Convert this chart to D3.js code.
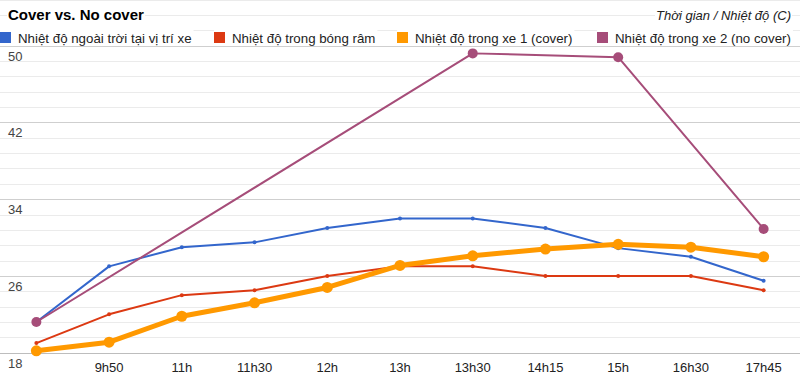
<!DOCTYPE html>
<html><head><meta charset="utf-8">
<script src="https://cdn.jsdelivr.net/npm/d3@7"></script>
<style>body{margin:0;background:#fff}svg{display:block;font-family:Arial,"Liberation Sans",sans-serif}</style>
</head><body><svg id="c" width="800" height="379"></svg>
<script>
const categories = ["", "9h50", "11h", "11h30", "12h", "13h", "13h30", "14h15", "15h", "16h30", "17h45"];
const outdoor  = [21.2, 27.0, 29.0, 29.5, 31.0, 32.0, 32.0, 31.0, 28.9, 28.0, 25.5];
const shade    = [19.0, 22.0, 24.0, 24.5, 26.0, 27.0, 27.0, 26.0, 26.0, 26.0, 24.5];
const car1     = [18.2, 19.1, 21.8, 23.2, 24.8, 27.1, 28.1, 28.8, 29.3, 29.0, 28.0];
const car2     = [21.2, null, null, null, null, null, 49.2, null, 48.8, null, 30.9];
const seriesNames = ["Nhiệt độ ngoài trời tại vị trí xe", "Nhiệt độ trong bóng râm", "Nhiệt độ trong xe 1 (cover)", "Nhiệt độ trong xe 2 (no cover)"];
const yTicks = [18, 26, 34, 42, 50];
const title = "Cover vs. No cover";
const axisTitle = "Thời gian / Nhiệt độ (C)";

const svg = d3.select("#c");
const W = 800, H = 379;
const x = d3.scaleBand().domain(d3.range(categories.length)).range([0, W]);
const cx = i => x(i) + x.bandwidth() / 2;
const y = d3.scaleLinear().domain([18, 50]).range([352.7, 45.7]);

// gridlines (minor every 1.6, extending to top)
const minor = d3.range(18, 18 + 1.6 * 24, 1.6).filter(v => y(v) >= -1);
svg.append("g").selectAll("line").data(minor).join("line")
  .attr("x1", 0).attr("x2", W)
  .attr("y1", d => Math.round(y(d)) + 0.5).attr("y2", d => Math.round(y(d)) + 0.5)
  .attr("stroke", (d, i) => i === 0 ? "#bdbdbd" : (i % 5 === 0 && d <= 50.01 ? "#cfcfcf" : "#ebebeb"))
  .attr("stroke-width", 1);

// title & axis title with white background
const tg = svg.append("g");
const tt = tg.append("text").attr("x", 8).attr("y", 20).attr("font-size", 15).attr("font-weight", "bold").attr("fill", "#000").text(title);
const at = tg.append("text").attr("x", 791).attr("y", 20).attr("text-anchor", "end").attr("font-size", 13).attr("font-style", "italic").attr("fill", "#222").text(axisTitle);
[tt, at].forEach(t => { const b = t.node().getBBox(); tg.insert("rect", "text").attr("x", b.x - 1).attr("y", b.y).attr("width", b.width + 2).attr("height", b.height).attr("fill", "#fff"); });

// series
const series = [
  {name: seriesNames[0], values: outdoor, color: "#3366cc", width: 2, r: 2},
  {name: seriesNames[1], values: shade, color: "#dc3912", width: 2, r: 2},
  {name: seriesNames[2], values: car1, color: "#ff9900", width: 5, r: 5.5},
  {name: seriesNames[3], values: car2, color: "#a64d79", width: 2, r: 5}
];

// legend
const legendX = [0, 214, 397, 597];
const lg = svg.append("g");
series.forEach((s, i) => {
  const g = lg.append("g").attr("transform", `translate(${legendX[i]},0)`);
  const t = g.append("text").attr("x", 18).attr("y", 42.5).attr("font-size", 13.3).attr("fill", "#222").text(s.name);
  const b = t.node().getBBox();
  g.insert("rect", "text").attr("x", 0).attr("y", 30).attr("width", b.x + b.width + 2).attr("height", 15).attr("fill", "#fff");
  g.append("rect").attr("x", 0).attr("y", 32).attr("width", 11).attr("height", 11).attr("fill", s.color);
});

// axis labels
svg.append("g").selectAll("text").data(yTicks).join("text")
  .attr("x", 8).attr("y", d => y(d) + 15).attr("font-size", 13).attr("fill", "#444").text(d => d);
svg.append("g").selectAll("text").data(categories).join("text")
  .attr("x", (d, i) => cx(i)).attr("y", 372).attr("text-anchor", "middle").attr("font-size", 13).attr("fill", "#222").text(d => d);

// lines
series.forEach(s => {
  const pts = s.values.map((v, i) => [i, v]).filter(p => p[1] != null);
  const line = d3.line().x(p => cx(p[0])).y(p => y(p[1]));
  svg.append("path").datum(pts).attr("d", line).attr("fill", "none")
    .attr("stroke", s.color).attr("stroke-width", s.width).attr("stroke-linejoin", "round");
  svg.append("g").selectAll("circle").data(pts).join("circle")
    .attr("cx", p => cx(p[0])).attr("cy", p => y(p[1])).attr("r", s.r).attr("fill", s.color);
});
</script></body></html>
